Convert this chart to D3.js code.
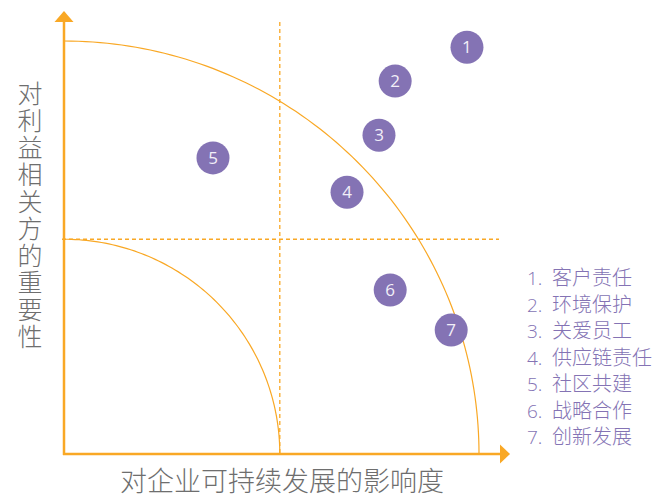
<!DOCTYPE html>
<html>
<head>
    <meta charset="utf-8" />
    <title>重要性矩阵</title>
    <style>
        body { margin: 0; background: #fff; }
        svg { display: block; font-family: "Noto Sans CJK SC", "Noto Sans", sans-serif; }
        .axis-title { fill: #6e6e6e; font-weight: 300; }
        .bubble { fill: #8473b4; }
        .num { fill: #f2eff8; font-size: 17px; text-anchor: middle; font-family: "Open Sans", "Noto Sans", sans-serif; }
        .legend { fill: #8473b4; font-size: 20px; font-weight: 300; }
        .legend .idx { font-family: "Open Sans", "Noto Sans", sans-serif; font-size: 19px; }
    </style>
</head>
<body>
<div id="chart"></div>
<script src="https://d3js.org/d3.v7.min.js"></script>
<script>
    // issue data: impact on sustainability (x) vs importance to stakeholders (y), 0-100
    var ids = [1, 2, 3, 4, 5, 6, 7];
    var names = ["客户责任", "环境保护", "关爱员工", "供应链责任", "社区共建", "战略合作", "创新发展"];
    var impact = [97.1, 79.8, 75.9, 68.2, 35.9, 78.6, 93.3];
    var importance = [98.5, 90.3, 77.2, 63.4, 71.7, 39.7, 30.0];

    var threshold = 52;   // dashed split lines + inner arc radius
    var outer = 100;      // outer arc radius

    var width = 664, height = 499;
    var orange = "#f9a825";

    var svg = d3.select("#chart").append("svg")
        .attr("width", width)
        .attr("height", height);

    var x = d3.scaleLinear().domain([0, 100]).range([64, 479]);
    var y = d3.scaleLinear().domain([0, 100]).range([454, 41]);

    // quarter arcs around the origin
    function quarter(r) {
        var pts = d3.range(0, 91).map(function(a) {
            var t = a * Math.PI / 180;
            return [x(r * Math.cos(t)), y(r * Math.sin(t))];
        });
        return d3.line()(pts);
    }
    [outer, threshold].forEach(function(r) {
        svg.append("path")
            .attr("d", quarter(r))
            .attr("fill", "none")
            .attr("stroke", orange)
            .attr("stroke-width", 1.2);
    });

    // dashed split lines
    svg.append("line")
        .attr("x1", x(threshold)).attr("x2", x(threshold))
        .attr("y1", 22).attr("y2", y(0))
        .attr("stroke", orange).attr("stroke-width", 1.3)
        .attr("stroke-dasharray", "4,3");
    svg.append("line")
        .attr("x1", 62).attr("x2", 499)
        .attr("y1", y(threshold)).attr("y2", y(threshold))
        .attr("stroke", orange).attr("stroke-width", 1.3)
        .attr("stroke-dasharray", "4,3");

    // axes with arrows
    svg.append("line")
        .attr("x1", x(0)).attr("x2", x(0))
        .attr("y1", y(0) + 1).attr("y2", 20)
        .attr("stroke", orange).attr("stroke-width", 2.5);
    svg.append("path")
        .attr("d", "M" + (x(0) - 9.5) + ",22 L" + x(0) + ",11 L" + (x(0) + 9.5) + ",22 Z")
        .attr("fill", orange);
    svg.append("line")
        .attr("x1", x(0) - 1).attr("x2", 502)
        .attr("y1", y(0)).attr("y2", y(0))
        .attr("stroke", orange).attr("stroke-width", 2.5);
    svg.append("path")
        .attr("d", "M500," + (y(0) - 9.5) + " L510," + y(0) + " L500," + (y(0) + 9.5) + " Z")
        .attr("fill", orange);

    // axis titles
    svg.append("text")
        .attr("class", "axis-title")
        .style("font-size", "25px")
        .style("writing-mode", "vertical-rl")
        .style("letter-spacing", "2px")
        .attr("x", 30)
        .attr("y", 81)
        .text("对利益相关方的重要性");

    svg.append("text")
        .attr("class", "axis-title")
        .style("font-size", "27px")
        .attr("x", 282)
        .attr("y", 491)
        .attr("text-anchor", "middle")
        .text("对企业可持续发展的影响度");

    // bubbles
    var g = svg.append("g").selectAll("g")
        .data(ids)
        .join("g")
        .attr("transform", function(d, i) {
            return "translate(" + x(impact[i]) + "," + y(importance[i]) + ")";
        });
    g.append("circle").attr("class", "bubble").attr("r", 16.5);
    g.append("text").attr("class", "num").attr("dy", "0.36em")
        .text(function(d) { return d; });

    // legend
    var leg = svg.append("g").selectAll("text")
        .data(ids)
        .join("text")
        .attr("class", "legend")
        .attr("y", function(d, i) { return 285 + i * 26.5; });
    leg.append("tspan").attr("class", "idx").attr("x", 527)
        .text(function(d) { return d + "."; });
    leg.append("tspan").attr("x", 552)
        .text(function(d, i) { return names[i]; });
</script>
</body>
</html>
